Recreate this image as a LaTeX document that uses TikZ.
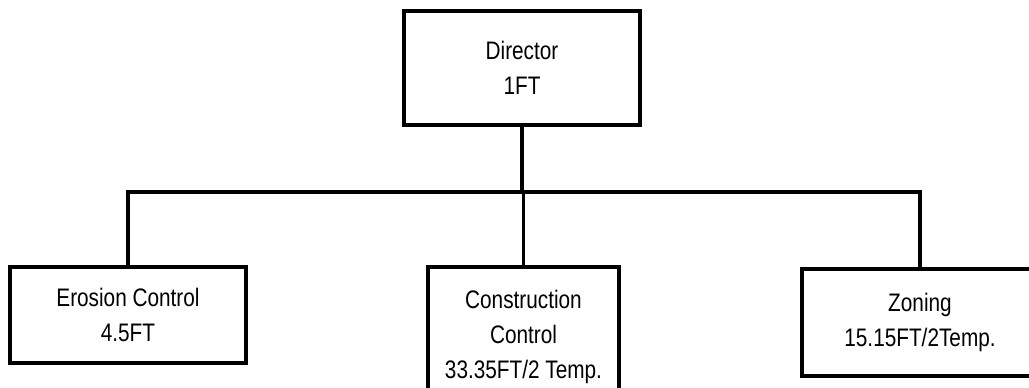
\documentclass[tikz,border=0pt]{standalone}
\usepackage{fontspec}
\setmainfont{Liberation Sans}[FakeStretch=0.82]
\tikzset{
    orgbox/.style={draw, line width=3pt, align=center, inner sep=0pt,
        font=\fontsize{19pt}{26pt}\selectfont},
    orgline/.style={line width=2.4pt}
}
\begin{document}
\begin{tikzpicture}[x=0.75pt, y=0.75pt]
    % 画布
    \useasboundingbox (0,0) rectangle (1029,387);

    % 顶层
    \node[orgbox, minimum width=177pt, minimum height=85.5pt] (dir) at (522,319) {Director\\1FT};

    % 下层三个部门
    \node[orgbox, minimum width=177pt, minimum height=72pt] (ero) at (128,72) {Erosion Control\\4.5FT};
    \node[orgbox, minimum width=143pt, minimum height=105pt] (con) at (523.5,50) {Construction\\Control\\33.35FT/2 Temp.};
    \node[orgbox, minimum width=177pt, minimum height=80pt] (zon) at (920,64.5) {Zoning\\15.15FT/2Temp.};

    % 连线
    \draw[orgline] (dir.south) -- ++(0,-65) coordinate (bus);
    \draw[orgline] (ero.north) |- (bus) -| (zon.north);
    \draw[orgline] (con.north) -- (con.north |- bus);
\end{tikzpicture}
\end{document}
